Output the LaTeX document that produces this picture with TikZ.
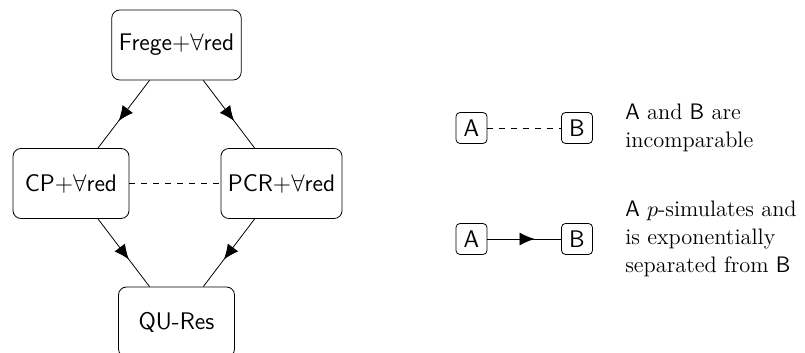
\documentclass[tikz,border=0pt]{standalone}
\usetikzlibrary{positioning,arrows.meta,decorations.markings}

\begin{document}
\begin{tikzpicture}[x=0.5pt, y=-0.5pt,
    font=\fontsize{11.2}{14}\selectfont,
    sys/.style={draw, rounded corners=4pt, minimum width=58pt, minimum height=35pt,
        inner xsep=3.5pt, font=\fontsize{12}{14}\selectfont\sffamily},
    legbox/.style={draw, rounded corners=2pt, minimum size=15.5pt, inner sep=1pt,
        font=\fontsize{12}{14}\selectfont\sffamily},
    legtext/.style={align=left, inner sep=0pt},
    midarr/.style={decoration={markings,
        mark=at position #1 with {\arrow{Latex[length=7.5pt,width=6.5pt]}}},
        postaction={decorate}},
    midarr/.default=0.6]
    \useasboundingbox (0,0) rectangle (805,353);

    % proof systems
    \node[sys] (frege) at (176.5,45) {Frege+$\forall$red};
    \node[sys] (cp) at (71,183.5) {CP+$\forall$red};
    \node[sys] (pcr) at (281.5,183.5) {PCR+$\forall$red};
    \node[sys] (qures) at (176.5,322) {QU-Res};

    \draw[midarr] (frege) -- (cp);
    \draw[midarr] (frege) -- (pcr);
    \draw[midarr] (cp) -- (qures);
    \draw[midarr] (pcr) -- (qures);
    \draw[dashed] (cp) -- (pcr);

    % legend
    \node[legbox] (a1) at (471.5,128) {A};
    \node[legbox] (b1) at (577,128) {B};
    \node[legbox] (a2) at (471.5,239) {A};
    \node[legbox] (b2) at (577,239) {B};
    \draw[dashed] (a1) -- (b1);
    \draw[midarr=0.64] (a2) -- (b2);

    \node[legtext, right=16pt of b1] (t1) {\textsf{A} and \textsf{B} are\\ incomparable};
    \node[legtext, right=16pt of b2] (t2) {\textsf{A} $p$-simulates and\\ is exponentially\\ separated from \textsf{B}};
\end{tikzpicture}
\end{document}
